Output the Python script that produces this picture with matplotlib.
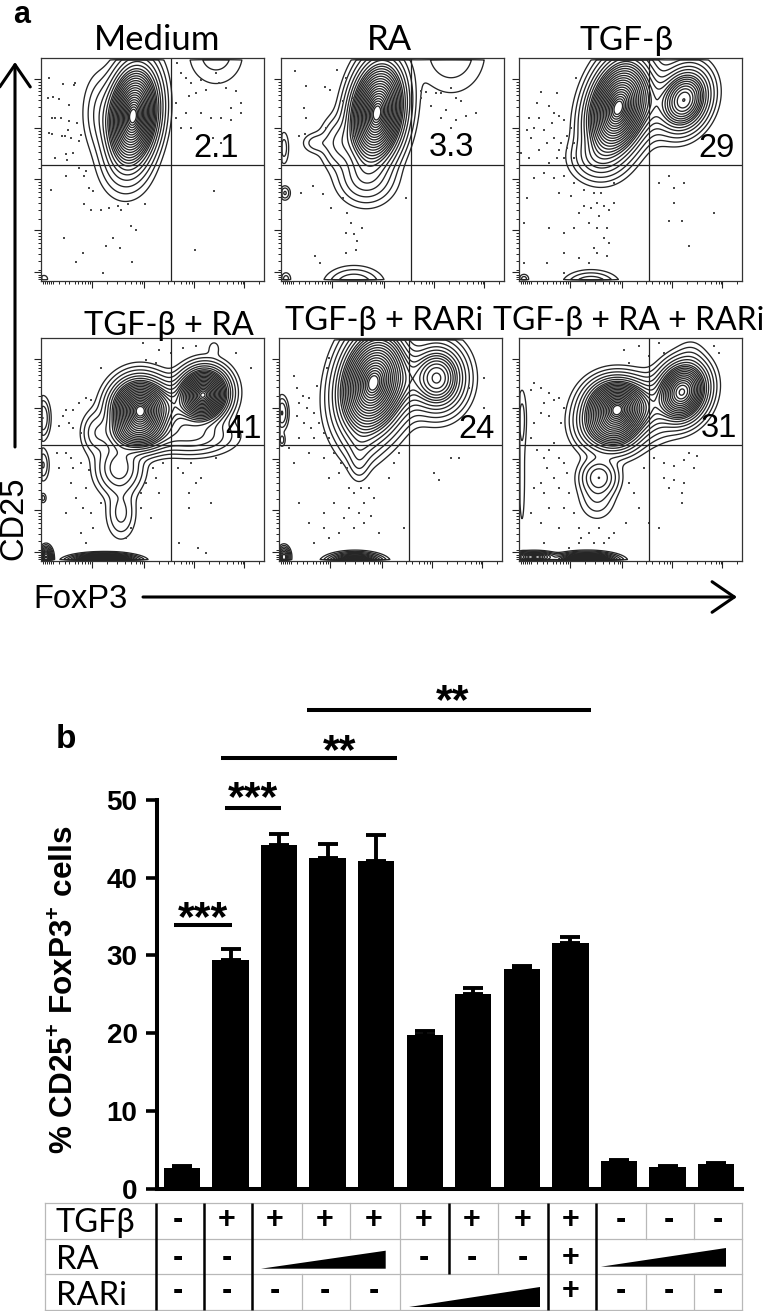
import numpy as np
import matplotlib
matplotlib.use("Agg")
import matplotlib.pyplot as plt

W, H = 770, 1311
plt.rcParams["mathtext.fontset"] = "custom"
plt.rcParams["mathtext.bf"] = "Liberation Sans:bold"
plt.rcParams["mathtext.rm"] = "Liberation Sans:bold"

# bar chart values
bar_values = [2.7, 29.4, 44.2, 42.5, 42.2, 19.8, 25.0, 28.3, 31.6, 3.5, 2.8, 3.2]
bar_errors = [0.2, 1.4, 1.4, 1.8, 3.3, 0.5, 0.8, 0.4, 0.8, 0.2, 0.1, 0.15]
y_ticks = [0, 10, 20, 30, 40, 50]

# table below the bars
row_names = ["TGFβ", "RA", "RARi"]
tgfb_signs = ["-", "+", "+", "+", "+", "+", "+", "+", "+", "-", "-", "-"]
ra_signs = ["-", "-", "", "", "", "-", "-", "-", "+", "", "", ""]
rari_signs = ["-", "-", "-", "-", "-", "", "", "", "+", "-", "-", "-"]
sign_x = [178, 227, 275, 325, 374, 424, 472, 523, 571, 621, 669, 718]
sign_y = [1220, 1258, 1291]
row_edges = [1203, 1239, 1274, 1310]
black_cols = [(155.7, 1203, 1310), (203.7, 1203, 1310), (252.3, 1203, 1310),
              (449, 1203, 1274), (547.7, 1203, 1310), (596.3, 1203, 1310)]
gray_cols = [(45, 1203, 1310), (301.7, 1203, 1239), (349.7, 1203, 1239), (301.7, 1274, 1310),
             (349.7, 1274, 1310), (400, 1203, 1310), (498.3, 1203, 1274),
             (646, 1203, 1239), (694.3, 1203, 1239), (646, 1274, 1310),
             (694.3, 1274, 1310), (742, 1203, 1310)]
wedges = [(261, 385.7, 1268.7, 1250.7), (601, 726, 1266.7, 1248), (409, 540, 1307, 1287)]

# significance bars, x in bar index, y in percent
sig_bars = [(-0.16, 1.03, 33.9), (0.886, 2.04, 49.0), (0.80, 4.43, 55.4), (2.57, 8.42, 61.6)]
sig_stars = [(203, 905, "***"), (253, 785, "***"), (340, 738, "**"), (453, 688, "**")]

# flow panels
panel_boxes = [(41, 58), (281, 58), (519, 58), (41, 338), (279, 338), (519, 338)]
panel_size = 223
panel_titles = ["Medium", "RA", "TGF-β", "TGF-β + RA", "TGF-β + RARi", "TGF-β + RA + RARi"]
title_pos = [(157, 50), (389, 50), (627, 50), (169, 335), (384, 330), (629, 330)]
title_size = [25, 25, 24, 23.5, 23.5, 23]
panel_nums = ["2.1", "3.3", "29", "41", "24", "31"]
num_pos = [(216, 157), (451, 156), (716, 157), (244, 438), (477, 438), (719, 437)]
vline_x = 130
hline_y = 107

# peaks: x, y, sx, sy, tilt, amp
medium_peaks = [(92, 58, 12, 24, 6, 1.0), (60, 55, 10, 22, 0, 0.03), (84, 108, 14, 18, 0, 0.03),
                (175, -4, 17, 19, 0, 0.02), (3, 221, 3, 3, 0, 0.012), (100, 224, 3, 2, 0, 0.01)]
ra_peaks = [(96, 55, 13, 25, 8, 1.0), (85, 120, 15, 14, 0, 0.06), (35, 85, 8, 6, 0, 0.02),
            (58, 85, 10, 14, 0, 0.05), (3, 90, 3, 10, 0, 0.02), (4, 135, 3, 4, 0, 0.03),
            (170, -6, 20, 24, 0, 0.025), (5, 221, 3, 4, 0, 0.02), (73, 226, 15, 9, 0, 0.05)]
tgfb_peaks = [(99, 50, 14, 24, 15, 1.0), (165, 42, 12, 16, 20, 0.5), (130, 45, 14, 18, 0, 0.08),
              (78, 100, 14, 12, 0, 0.06), (5, 221, 3, 3, 0, 0.02), (72, 226, 14, 7, 0, 0.05)]
tgfb_ra_peaks = [(99, 72, 14, 15, 0, 1.0), (162, 57, 12, 13, 25, 1.0), (130, 70, 14, 14, 0, 0.12),
                 (96, 95, 16, 10, 0, 0.25), (78, 130, 12, 14, 0, 0.1), (80, 175, 8, 14, 0, 0.035),
                 (150, 98, 22, 10, 0, 0.08), (55, 95, 8, 12, 0, 0.04), (173, 10, 4, 5, 0, 0.01),
                 (2, 80, 4, 11, 0, 0.05), (2, 127, 3.5, 9, 0, 0.03), (2, 160, 2, 3, 0, 0.02),
                 (5, 219, 3, 5, 0, 0.3), (63, 223, 14, 3, 0, 1.0)]
tgfb_rari_peaks = [(94, 45, 16, 26, 12, 1.0), (158, 40, 14, 17, 0, 0.4), (125, 45, 14, 18, 0, 0.08),
                   (82, 105, 10, 13, 0, 0.03), (80, 122, 6, 12, 0, 0.025),
                   (3, 75, 3.5, 9, 0, 0.05), (3, 102, 2, 4, 0, 0.02), (5, 219, 3, 5, 0, 0.2),
                   (76, 224, 12, 4, 0, 0.5)]
triple_peaks = [(99, 68, 15, 13, 5, 1.0), (95, 88, 14, 13, 0, 0.5), (163, 54, 12, 15, 20, 0.9),
                (130, 70, 14, 16, 0, 0.1), (75, 85, 12, 14, 0, 0.1), (80, 139, 10, 10, 0, 0.12),
                (78, 160, 10, 12, 0, 0.03), (172, 18, 8, 10, 0, 0.012), (3, 80, 3, 18, 0, 0.02),
                (3, 140, 2.5, 40, 0, 0.012), (15, 219, 10, 2.5, 0, 0.3), (68, 223, 13, 3.5, 0, 1.0)]
panel_peaks = [medium_peaks, ra_peaks, tgfb_peaks, tgfb_ra_peaks, tgfb_rari_peaks, triple_peaks]

# scatter dots outside the contours
medium_dots = [(8, 20), (7, 40), (12, 39), (33, 27), (22, 26), (34, 25), (18, 41), (20, 60), (11, 60), (14, 60),
               (28, 47), (28, 63), (27, 72), (30, 80), (8, 75), (11, 76), (21, 78), (24, 78), (38, 83), (36, 65),
               (40, 77), (32, 95), (25, 96), (26, 102), (38, 110), (45, 113), (136, 5), (140, 15), (145, 20),
               (150, 25), (160, 22), (175, 15), (185, 30), (195, 33), (148, 38), (155, 35), (165, 32), (178, 25),
               (190, 50), (200, 45), (145, 55), (160, 55), (170, 60), (180, 60), (190, 62), (200, 55), (135, 60),
               (150, 70), (140, 70), (172, 80), (180, 85), (135, 45), (173, 133), (154, 192), (43, 118), (48, 130),
               (52, 133), (43, 146), (50, 152), (60, 152), (68, 150), (77, 148), (80, 152), (87, 146), (104, 146),
               (90, 168), (95, 172), (72, 180), (79, 190), (65, 188), (42, 195), (23, 180), (35, 204), (91, 204),
               (62, 215), (14, 100), (25, 118), (10, 132)]
ra_dots = [(14, 13), (56, 12), (65, 20), (25, 28), (44, 29), (49, 32), (62, 43), (72, 40), (23, 50), (25, 60), (45, 70),
           (24, 76), (18, 78), (72, 78), (32, 128), (20, 135), (42, 136), (62, 140), (125, 140), (50, 150), (66, 155),
           (65, 175), (70, 165), (81, 170), (73, 176), (76, 183), (65, 195), (34, 198), (39, 205), (75, 192),
           (140, 33), (145, 34), (155, 35), (160, 35), (170, 30), (175, 40), (150, 48), (165, 52), (180, 43), (195, 55),
           (185, 58), (140, 40), (160, 60), (175, 62), (170, 70)]
tgfb_dots = [(57, 20), (38, 35), (22, 34), (18, 45), (30, 48), (35, 55), (20, 60), (10, 60), (8, 72), (15, 70),
             (12, 80), (25, 72), (33, 65), (40, 58), (45, 62), (28, 85), (35, 80), (42, 85), (48, 90), (52, 70),
             (48, 78), (40, 92), (55, 85), (20, 92), (38, 100), (30, 105), (45, 100), (55, 100), (2, 95), (10, 100),
             (15, 120), (25, 115), (35, 120), (45, 118), (55, 125), (65, 132), (75, 135), (82, 135), (95, 125),
             (40, 135), (52, 138), (60, 155), (65, 148), (72, 150), (78, 145), (85, 148), (90, 152), (95, 145),
             (80, 158), (70, 165), (78, 170), (88, 170), (55, 170), (8, 140), (5, 165), (30, 170), (45, 175),
             (75, 190), (85, 180), (90, 185), (45, 195), (60, 200), (70, 205), (78, 195), (88, 198), (28, 205),
             (45, 215), (5, 205), (140, 125), (150, 118), (155, 130), (165, 125), (155, 145), (150, 163), (163, 163),
             (170, 188), (195, 155)]
tgfb_ra_dots = [(45, 60), (25, 72), (32, 72), (38, 65), (22, 78), (28, 85), (18, 88), (32, 90), (40, 95), (50, 62),
                (60, 30), (102, 5), (118, 12), (130, 15), (142, 10), (155, 8), (195, 15), (210, 30), (105, 22),
                (115, 25), (16, 115), (25, 115), (30, 120), (18, 130), (32, 130), (40, 125), (30, 145), (45, 150),
                (48, 132), (35, 160), (25, 175), (42, 170), (50, 175), (60, 165), (52, 190), (40, 195), (45, 205),
                (85, 200), (100, 155), (100, 170), (105, 145), (115, 140), (112, 130), (122, 125), (137, 130),
                (142, 135), (150, 125), (155, 145), (148, 155), (160, 140), (148, 170), (170, 165), (157, 210),
                (165, 215), (138, 205), (90, 190), (110, 180), (118, 155), (175, 120)]
tgfb_rari_dots = [(15, 38), (18, 50), (24, 58), (30, 60), (38, 48), (48, 30), (50, 20), (20, 65), (28, 70), (35, 75),
                  (18, 78), (25, 85), (32, 90), (40, 85), (45, 95), (20, 100), (35, 100), (50, 100), (10, 110),
                  (15, 125), (30, 115), (45, 120), (55, 115), (62, 125), (68, 130), (50, 140), (60, 135), (70, 150),
                  (75, 155), (82, 150), (90, 150), (95, 160), (85, 165), (80, 175), (70, 170), (65, 180), (55, 165),
                  (45, 175), (20, 165), (30, 185), (75, 190), (85, 185), (92, 178), (60, 195), (50, 200), (35, 205),
                  (45, 190), (100, 195), (110, 140), (115, 125), (120, 115), (172, 120), (180, 120), (195, 85),
                  (190, 50), (205, 40), (205, 70), (155, 135), (160, 142), (125, 190)]
triple_dots = [(15, 45), (22, 50), (12, 52), (30, 55), (35, 62), (25, 65), (40, 60), (45, 70), (22, 75), (30, 78),
               (42, 85), (15, 85), (12, 100), (18, 112), (30, 112), (35, 105), (25, 120), (40, 120), (45, 125),
               (28, 130), (22, 145), (35, 140), (48, 135), (15, 150), (25, 155), (40, 150), (50, 155), (30, 170),
               (45, 170), (55, 175), (12, 175), (22, 185), (40, 190), (60, 190), (70, 195), (80, 190), (90, 200),
               (62, 200), (75, 205), (85, 205), (95, 195), (60, 205), (50, 210), (25, 205), (110, 145), (115, 155),
               (120, 170), (125, 130), (135, 120), (145, 125), (155, 128), (165, 122), (170, 115), (178, 118),
               (145, 140), (155, 142), (165, 145), (175, 130), (130, 185), (140, 190), (150, 150), (163, 155),
               (163, 165), (120, 8), (130, 18), (140, 5), (145, 15), (195, 8), (200, 15), (105, 12), (110, 25), (107, 185)]
panel_dots = [medium_dots, ra_dots, tgfb_dots, tgfb_ra_dots, tgfb_rari_dots, triple_dots]

x_major = [51, 103, 153, 203]
y_major = [21, 70, 121, 172, 214]
x_cluster = [2, 4, 6, 8, 10, 12, 18, 24, 28, 34, 37, 41, 44, 47, 49, 66, 76, 84, 90, 95, 99, 101,
             118, 127, 133, 140, 145, 148, 151, 168, 178, 186, 192, 197, 200, 202, 218]
y_cluster = [24, 27, 30, 33, 37, 42, 49, 58, 73, 76, 79, 83, 88, 94, 101, 110, 124, 127, 130, 134,
             139, 145, 152, 161, 175, 178, 181, 185, 190, 196, 203, 212, 217, 219, 221]

# contour radii in sigma units, tight near the peak and sparse at the rim
contour_r = [0.28, 0.38, 0.48, 0.58, 0.68, 0.78, 0.88, 0.98, 1.08, 1.18, 1.28, 1.38, 1.48, 1.58,
             1.68, 1.78, 1.88, 1.98, 2.12, 2.28, 2.46, 2.68, 2.92, 3.2]


def density(peaks, X, Y):
    Z = np.zeros_like(X, dtype=float)
    for cx, cy, sx, sy, tilt, amp in peaks:
        t = np.radians(tilt)
        u = (X - cx) * np.cos(t) + (Y - cy) * np.sin(t)
        v = -(X - cx) * np.sin(t) + (Y - cy) * np.cos(t)
        Z += amp * np.exp(-0.5 * (u ** 2 / sx ** 2 + v ** 2 / sy ** 2))
    return Z / Z.max()


def px_axes(fig, x0, y0, x1, y1):
    return fig.add_axes([x0 / W, 1 - y1 / H, (x1 - x0) / W, (y1 - y0) / H])


fig = plt.figure(figsize=(W / 100, H / 100), dpi=100, facecolor="white")

gx, gy = np.meshgrid(np.arange(0, 223.5, 0.5), np.arange(0, 223.5, 0.5))
levels = sorted(np.exp(-0.5 * r ** 2) for r in contour_r)

for i, (px, py) in enumerate(panel_boxes):
    ax = px_axes(fig, px, py, px + panel_size, py + panel_size)
    ax.set_xlim(0, panel_size)
    ax.set_ylim(panel_size, 0)
    Z = density(panel_peaks[i], gx, gy)
    Z[gy < 2] = 0
    Z[gx < 1] = 0
    Z[gy > 221.5] = 0
    ax.contour(gx, gy, Z, levels=levels, colors="#262626", linewidths=0.95)
    dots = np.array(panel_dots[i])
    ax.plot(dots[:, 0], dots[:, 1], "s", ms=1.5, mew=0, color="#4a4a4a")
    ax.axvline(vline_x, color="#222222", lw=0.9)
    ax.axhline(hline_y, color="#222222", lw=0.9)
    ax.set_xticks(x_major)
    ax.set_yticks(y_major)
    ax.set_xticks(x_cluster, minor=True)
    ax.set_yticks(y_cluster, minor=True)
    ax.set_xticklabels([])
    ax.set_yticklabels([])
    ax.tick_params(which="major", length=5, width=0.8, color="#222222")
    ax.tick_params(which="minor", length=2.2, width=0.7, color="#222222")
    for s in ax.spines.values():
        s.set_linewidth(0.9)
        s.set_color("#333333")

# bar chart
bar_ax = px_axes(fig, 157, 800, 742, 1188.7)
bar_ax.set_xlim((157 - 182) / 48.55, (742 - 182) / 48.55)
bar_ax.set_ylim(0, 50)
xs = np.arange(len(bar_values))
bar_ax.bar(xs, bar_values, width=0.748, color="black")
bar_ax.errorbar(xs, bar_values, yerr=[np.zeros(len(bar_errors)), bar_errors], fmt="none", ecolor="black",
                elinewidth=2.8, capsize=7.2, capthick=2.8)
for x0, x1, y in sig_bars:
    bar_ax.plot([x0, x1], [y, y], color="black", lw=2.9, clip_on=False, solid_capstyle="butt")
bar_ax.spines["top"].set_visible(False)
bar_ax.spines["right"].set_visible(False)
bar_ax.spines["left"].set_linewidth(2.9)
bar_ax.spines["bottom"].set_linewidth(2.9)
bar_ax.set_xticks([])
bar_ax.set_yticks(y_ticks)
bar_ax.tick_params(axis="y", length=8, width=2.6, pad=6)
for lab in bar_ax.get_yticklabels():
    lab.set_fontfamily("Liberation Sans")
    lab.set_fontweight("bold")
    lab.set_fontsize(20)

# overlay in pixel coordinates for texts, arrows and the table
ov = fig.add_axes([0, 0, 1, 1])
ov.set_xlim(0, W)
ov.set_ylim(H, 0)
ov.axis("off")
ov.patch.set_alpha(0)

ov.text(22, 23, "a", fontsize=22, fontweight="bold", family="Liberation Sans", ha="center", va="baseline")
ov.text(66, 748, "b", fontsize=24, fontweight="bold", family="Liberation Sans", ha="center", va="baseline")

for name, (tx, ty), fs in zip(panel_titles, title_pos, title_size):
    ov.text(tx, ty, name, fontsize=fs, family="Lato", ha="center", va="baseline")
for num, (tx, ty) in zip(panel_nums, num_pos):
    ov.text(tx, ty, num, fontsize=23.5, family="Liberation Sans", ha="center", va="baseline")

arrow_style = dict(arrowstyle="->,head_length=0.8,head_width=0.55", lw=2.2, color="black",
                   shrinkA=0, shrinkB=0, mutation_scale=20)
ov.annotate("", xy=(15, 62), xytext=(15, 447), arrowprops=arrow_style)
ov.annotate("", xy=(737, 597), xytext=(143, 597), arrowprops=arrow_style)
ov.text(14, 518, "CD25", fontsize=23.5, family="Liberation Sans", rotation=90, ha="center", va="center")
ov.text(81, 608, "FoxP3", fontsize=23.5, family="Liberation Sans", ha="center", va="baseline")

ov.text(66, 990, r"% CD25$^{\mathbf{+}}$ FoxP3$^{\mathbf{+}}$ cells", fontsize=22.7, fontweight="bold",
        family="Liberation Sans", rotation=90, ha="center", va="center")

for sx, sy, label in sig_stars:
    ov.text(sx, sy + 25, label, fontsize=31, fontweight="bold", family="Liberation Sans", ha="center", va="baseline")

# table
for y in row_edges:
    ov.plot([45, 742], [y, y], color="#b8b8b8", lw=0.9)
for x, y0, y1 in gray_cols:
    ov.plot([x, x], [y0, y1], color="#b8b8b8", lw=0.9)
for x, y0, y1 in black_cols:
    ov.plot([x, x], [y0, y1], color="black", lw=1.8, solid_capstyle="butt")
for x0, x1, y0, y1 in wedges:
    ov.fill([x0, x1, x1], [y0, y1, y0], color="black", lw=0)
for name, y in zip(row_names, [1232, 1269, 1305]):
    ov.text(56, y, name, fontsize=23.5, family="Lato", ha="left", va="baseline")
for signs, y in zip([tgfb_signs, ra_signs, rari_signs], sign_y):
    for x, s in zip(sign_x, signs):
        if s:
            ov.text(x, y, s, fontsize=22, fontweight="bold", family="Liberation Sans", ha="center", va="center")

ov.set_xlim(0, W)
ov.set_ylim(H, 0)
fig.savefig("out.png", dpi=100, facecolor="white")
